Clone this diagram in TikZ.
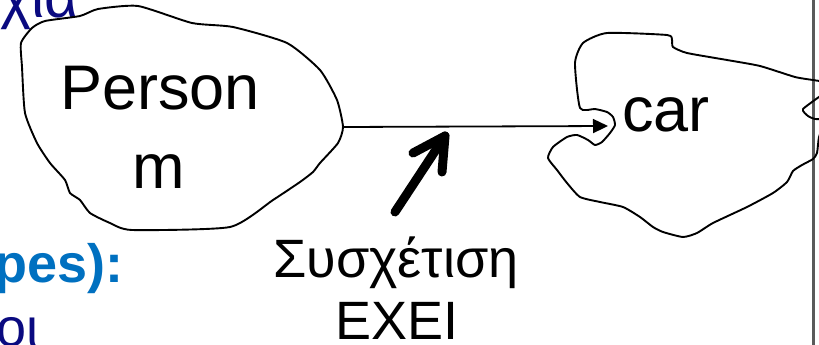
\documentclass[tikz,border=0pt]{standalone}
\usepackage{fontspec}
\setmainfont{Liberation Sans}
\usetikzlibrary{arrows.meta}
\definecolor{navytext}{RGB}{10,10,128}
\definecolor{bluetext}{RGB}{0,112,192}
\definecolor{rulegray}{RGB}{90,90,90}
\tikzset{
  blob/.style={draw=black, line width=1.9pt, line join=round},
  bigtext/.style={inner sep=0pt, anchor=base, font=\fontsize{63}{76}\selectfont},
  labeltext/.style={inner sep=0pt, anchor=base, font=\fontsize{54}{65}\selectfont},
  bgtext/.style={inner sep=0pt, anchor=base west},
  relarrow/.style={line width=1.8pt, -{Triangle[length=15pt,width=14pt]}},
  fatarrow/.style={line width=9pt, line cap=round, line join=round}
}
\begin{document}
\begin{tikzpicture}[x=1pt,y=-1pt]
\useasboundingbox (0,0) rectangle (819,345);
\clip (0,0) rectangle (819,345);
\fill[white] (0,0) rectangle (819,345);

% background slide text fragments
\node[bgtext, text=navytext, font=\fontsize{59}{70}\selectfont] (t1) at (0,18) {χία};
\node[bgtext, text=bluetext, font=\fontsize{54}{65}\selectfont\bfseries] (t2) at (-6,282) {pes):};
\node[bgtext, text=navytext, font=\fontsize{54}{64}\selectfont] (t3) at (-4,346) {οι};

% vertical rule
\draw[rulegray, line width=2.5pt] (813.5,-2) -- (813.5,350);

% Person blob
\draw[blob] plot[smooth cycle, tension=0.35] coordinates {
(21,43) (32,28) (45,21) (80,16) (98,9) (138,6) (192,23) (233,27) (287,43)
(320,70) (337,100) (343,127) (338,143) (320,163) (313,172) (300,182) (273,200)
(230,227) (132,230) (110,223) (90,213) (80,200) (70,193) (65,180) (50,163)
(37,143) (25,113) (22,67)};

% car blob (clipped at right edge)
\draw[blob] plot[smooth, tension=0.35] coordinates {
(826,82) (813,80) (795,77) (760,66) (727,60) (687,53) (673,47) (672,40) (667,35)
(607,33) (583,43) (575,63) (580,108) (595,109) (607,112) (613,117) (615,125)
(610,133) (602,142) (595,145) (588,140) (577,135) (567,137) (553,147) (548,158)
(557,170) (567,183) (580,197) (600,202) (623,207) (640,217) (653,227) (663,232)
(683,237) (697,233) (713,223) (747,207) (773,193) (787,182) (793,171) (802,165)
(813,159) (817,153) (819,137) (824,125)};
\draw[blob] plot[smooth, tension=0.3] coordinates {
(826,92) (803,109) (808,116) (815,119) (826,119)};

% texts
\node[bigtext] (person) at (160,110) {Person};
\node[bigtext] (personm) at (159,188) {m};
\node[bigtext, anchor=base west] (car) at (622,131) {car};

% relationship arrow
\coordinate (pR) at (343,127);
\coordinate (cL) at (608,126);
\draw[relarrow] (pR) -- (cL);

% pointer arrow
\coordinate (fTail) at (395,212);
\coordinate (fTip) at (445,136);
\coordinate (fB1) at (413,153);
\coordinate (fB2) at (442,172);
\draw[fatarrow] (fTail) -- (fTip);
\draw[fatarrow] (fB1) -- (fTip) -- (fB2);

% label
\node[labeltext] (rel1) at (396,277) {Συσχέτιση};
\node[labeltext] (rel2) at (397,339) {ΕΧΕΙ};
\end{tikzpicture}
\end{document}
